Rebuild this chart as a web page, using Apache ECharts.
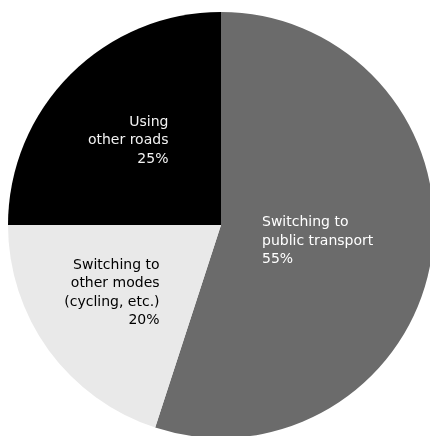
<!DOCTYPE html>
<html>
<head>
<meta charset="utf-8">
<script src="https://cdn.jsdelivr.net/npm/echarts@6/dist/echarts.min.js"></script>
<style>
html,body{margin:0;padding:0;background:#fff;}
#chart{width:430px;height:436px;}
</style>
</head>
<body>
<div id="chart"></div>
<script>
const categories = ['Switching to\npublic transport', 'Switching to\nother modes\n(cycling, etc.)', 'Using\nother roads'];
const values = [55, 20, 25];
const colors = ['#6b6b6b', '#e9e9e9', '#000000'];
const textColors = ['#ffffff', '#000000', '#f2f2f2'];
const aligns = ['left', 'right', 'right'];
const offsets = [[-11.5, -1], [-20.5, 3.4], [-15.4, -7]];

const chart = echarts.init(document.getElementById('chart'));
chart.setOption({
  animation: false,
  series: [{
    type: 'pie',
    center: [221, 225],
    radius: 213,
    startAngle: 90,
    clockwise: true,
    avoidLabelOverlap: false,
    emphasis: { disabled: true },
    data: categories.map((c, i) => ({
      name: c,
      value: values[i],
      itemStyle: { color: colors[i] },
      label: {
        show: true,
        position: 'inside',
        offset: offsets[i],
        formatter: (p) => (p.name + '\n' + p.value + '%').split('\n').map(s => '{a|' + s + '}').join('\n'),
        rich: {
          a: {
            align: aligns[i],
            color: textColors[i],
            fontFamily: 'DejaVu Sans',
            fontSize: 14,
            lineHeight: 18.5
          }
        }
      }
    })),
    labelLine: { show: false }
  }]
});
</script>
</body>
</html>
